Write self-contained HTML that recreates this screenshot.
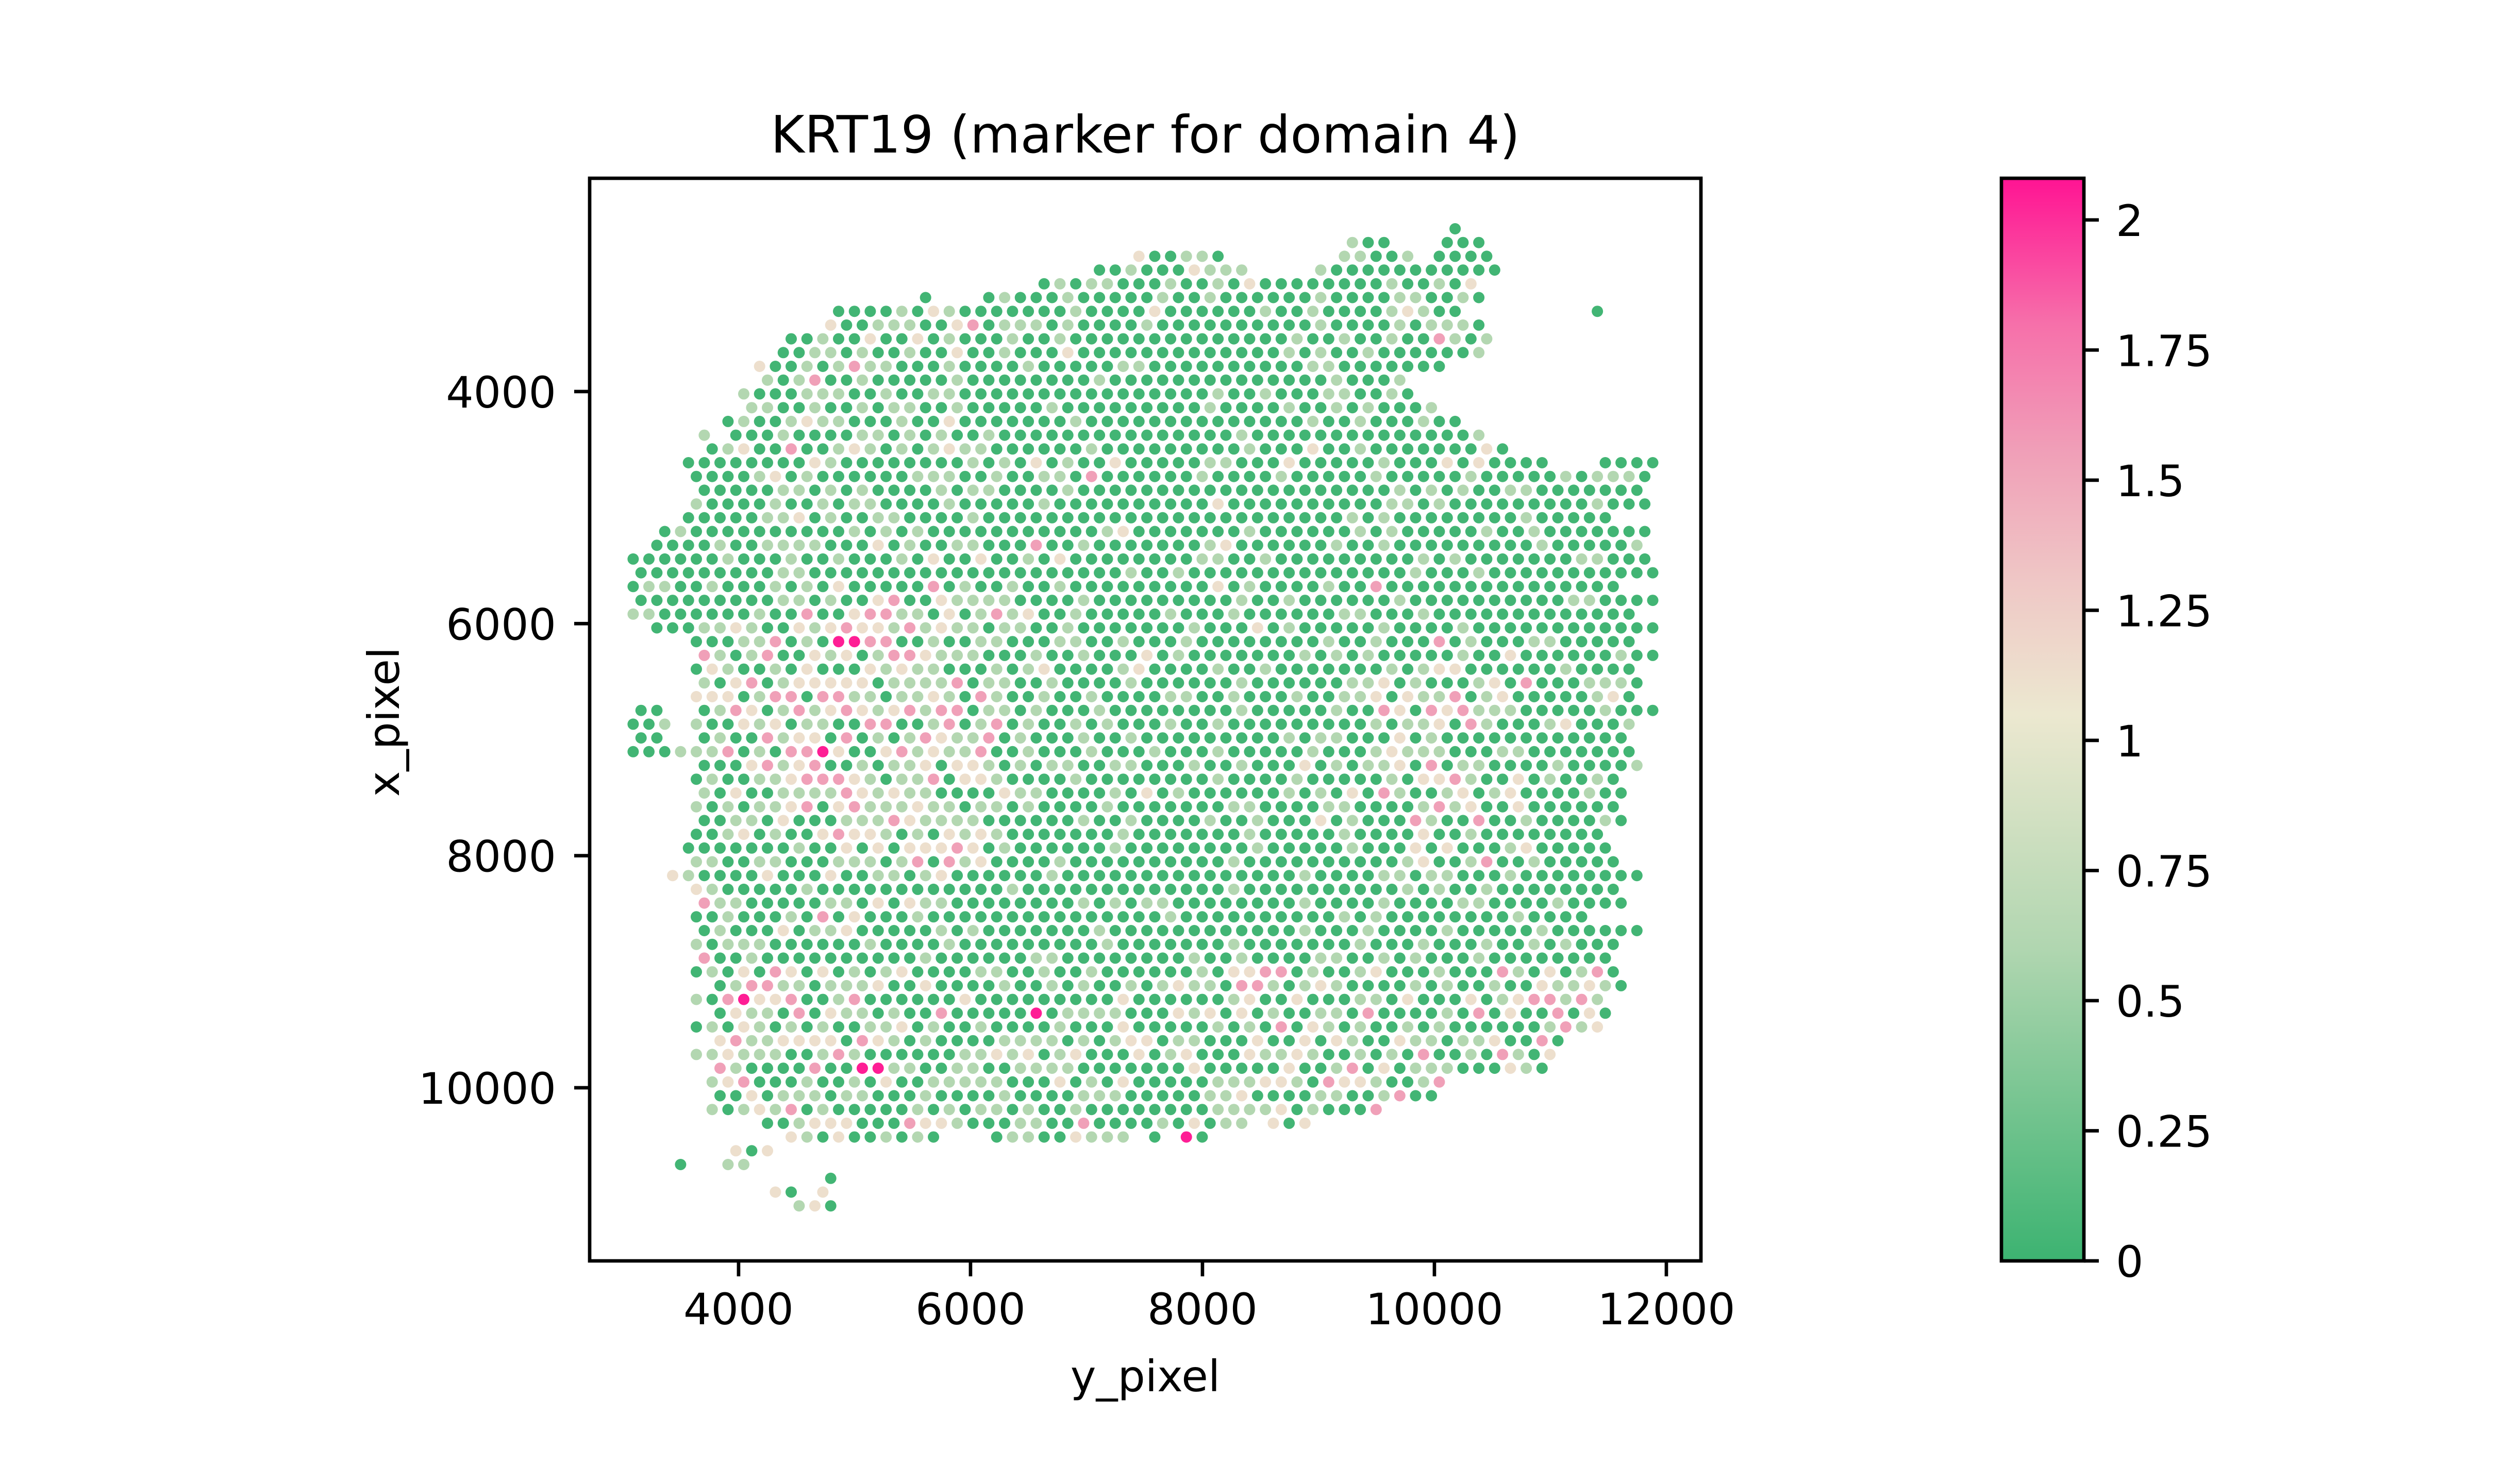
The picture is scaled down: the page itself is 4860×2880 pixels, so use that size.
<!DOCTYPE html>
<html><head><meta charset="utf-8">
<style>
html,body{margin:0;padding:0;background:#fff;}
svg{display:block;}
text{font-family:"DejaVu Sans","Liberation Sans",sans-serif;fill:#000;}
</style></head>
<body>
<svg id="fig" width="4860" height="2880" viewBox="0 0 4860 2880" xmlns="http://www.w3.org/2000/svg">
<defs>
<linearGradient id="cbgrad" x1="0" y1="1" x2="0" y2="0">
<stop offset="0" stop-color="#3cb371"/>
<stop offset="0.288" stop-color="#b0d6b0"/>
<stop offset="0.505" stop-color="#ece8d0"/>
<stop offset="0.625" stop-color="#efc8c6"/>
<stop offset="0.745" stop-color="#f0a0b8"/>
<stop offset="0.865" stop-color="#f670aa"/>
<stop offset="1" stop-color="#ff1493"/>
</linearGradient>
</defs>
<rect x="0" y="0" width="4860" height="2880" fill="#fff"/>
<text x="2222" y="296" font-size="100" text-anchor="middle">KRT19 (marker for domain 4)</text>
<g id="spots"></g>
<rect x="1144" y="346" width="2156" height="2101" fill="none" stroke="#000" stroke-width="6.7"/>
<g id="xticks"></g>
<g id="yticks"></g>
<text x="2222" y="2700" font-size="84" text-anchor="middle">y_pixel</text>
<text x="745" y="1401" font-size="84" text-anchor="middle" dominant-baseline="central" transform="rotate(-90 745 1401)">x_pixel</text>
<rect x="3883" y="346" width="160" height="2101" fill="url(#cbgrad)" stroke="#000" stroke-width="6.7"/>
<g id="cbticks"></g>
</svg>
<script>
// ---- axis data ----
const xTicks = [4000, 6000, 8000, 10000, 12000];
const yTicks = [4000, 6000, 8000, 10000];
const cbTicks = [0, 0.25, 0.5, 0.75, 1, 1.25, 1.5, 1.75, 2];
const cbTickLabels = ["0", "0.25", "0.5", "0.75", "1", "1.25", "1.5", "1.75", "2"];
// ---- spot data: grid rows (row index -> start column, last column, value codes per column) ----
const rowStart = [52,45,32,29,26,18,13,12,10,9,8,8,7,7,6,4,5,3,4,4,4,3,2,1,0,0,0,0,0,1,4,4,4,4,4,0,0,0,0,4,4,4,4,4,4,3,4,2,4,4,4,4,4,4,4,5,4,5,4,5,4,5,5,5,5,8,10,6,3,12,9,10];
const rowEnd = [52,53,54,54,54,53,61,53,54,53,51,48,50,50,52,63,64,64,64,63,64,63,64,63,64,64,63,64,63,64,63,64,63,64,63,64,63,63,63,63,62,62,62,62,61,61,62,63,62,62,62,63,62,61,62,62,61,61,62,60,59,57,52,50,47,42,36,99,99,99,99,99];
const rowCodes = [
"g",
"lgg...ggg",
"bggllg.......llggl.gggg",
"gglgggblll....lggggggggggg",
"glgllggglgglgbgggggggglgglgb",
"g...glggglggggglgglgggggglggggllgglgb",
"gggglgblggggggglggggbgggggglgglgggglblgg........g",
"bgglllggbpglllglgggglgggggggggglgggglglllgl",
"gglggbggbglggglgglgggggggggggggglgglgglggplgl",
"ggllglgglggbgglgggbggggggggggggglglgglggggggl",
"bgglglpllggglgggglgggggllggggggggggllgggggggg",
"lglpgglggggglgggggggglgggggggggggggglgggl",
"lggglllgglggllgggggggggggggggglgglgggllgglg",
"llgglgglgllgglggggglggggggggglgggglgglglgggl",
"glgglbllggglggbggggggglgggggggggggggglgglggglggb",
"l.ggglggggllglglgglggggggggggggggglggggggggggggggl..........g",
"glbggpgglblglglbllgggggglggggggggglgggbgglgggggggbg.........g",
"ggggggggblgggggggglglgbglggbgggggllgggbggggglgggbgbgggg...ggggg",
"gggglbglgggggglllgglggllgpgggggglgggglggggglggggglggggglglllglg",
"gggggllglglgggglgllgggglgggggggggggggggggggglglglggllggggggg",
"lgggglgglgllgggglggggglggggggggggbggggggggggllglggggggggglggg",
"gggggllbglggllgggglggggggggggggggggggggggglglgggggggglggggg",
"glgggggggggglglglggggggggggglbggggggglgggggglglggggglgglgggggggg",
"gggglggllllgggbglggllgggpgglggggggglbgggggglgglggggggggglggggglggg",
"gggggglggglgglggglgbggbgglgbggggggggllgglggggggggglglgggggggllggggl",
"gggggggggllgggggggggggggggggggglgglgggggggggggggglggglgggggggggggg",
"gllgglggglglgbgggggpglgglgglgggggggggbglgggglggpggggggggggggggg",
"gggggggggllglggbpggbllllgggglggggggggglgglgggggglggggggggggllgggggg",
"llgggggglggpggbppllgbglplbgglggggglggglggggggllggglggggggggggggggl",
"gggllblggblbpbblplbllgllgglggggggglgggbglggggglgggglggggggggggggg",
"gggllpglgmmppgglggllgggllgglggglgggggggglgglgggpglgggllgggggg",
"plglpggblbglppblllggglgglgggbglggggggglglglggggglggbgggggglgggg",
"gblgglgbgggblbllggglglbgggglbgggglgglggggggglglbbgggggglgggggg",
"lgbpglbbbbbgllllpgllgglgggglgggggglggggggllbglggglbgpggglllg",
"bbbglppgppllgllblgplgglgglggggllgglggglggllbgbllpglbggggglbg",
"gg..glpbglplbpblbplppgllglggglgggggggglggggglggpbgpbplllggggglgggg",
"ggl.lggblbgllggppgglpglpglgglglggglgglggggggggglgllbgplggglbggglg",
"gg..glggplbbgpglglpbllpglggglgglggggggggglgllgggbglgggggggggggg",
"ggglllpglgppmbggbplbllpgglggglggglggglggggglggglblllgggllgggggggg",
"gggbplbpgglgllbgbblglgllggllggglgglgggbglgllbgpgllgggglggggl",
"glggllbpppblgllpgbblgggglgggggggglgggglggggglgbbplggbglgglgg",
"lgbggllllpblbllggggbllgggglgbglgggggglglgbgplgglbglbgggglgg",
"lglgllbpgbplllbllgllglgggglgggggggllggggllgggglplbggbgggggg",
"ggllgbggglllpbllllgggggglgglgggglgglgggbglgggplggpgglgggglg",
"gglbglggbpbblglgblblggggggglggggggglggggglggggbgglggggggggg",
"ggggggglggbgbgbbbpbglgggggglgggggggglggggglgggbgbggglbggggg",
"llggllggglllglpgplbgggglgggggggggglgggggggggglbgglpgglgggggggg",
"blggggbgggbggllglbgggggglggggggggggggggglggggllgllggglgggggggg",
"blggggglgggggggggggglggggggggggggglgggggggggglglgglgggggggg",
"pllgggggllgbgbllgggggggglglgllgggggggglgggglggggllgggglgggg",
"gglggglgpgbggglggggggggggggggglgggggggggglglgggggggglgggg",
"glgggbgllbggggglglggggggglgggggggggggglggglgggglggggglgggggggg",
"lglllgggggglgggglggggggggglggggggglggggggglggglggglgglglgggg",
"pgglgggggggggglggggggllgggggggglgglggggllgglglggglgggggggg",
"glgbgpbgbglglbggggllgglgglgggggglgbbppglgglbggglgggplgbglpg",
"glppllglllbggbgggglgglglgglglbllgpplglblgggglglgglggbllblg",
"lgpmbbpgglpggggggbgggggggggbgggggglbggbgggllgbgggbglbpplpl",
"gbllgpgbllglggpgggggmgllllgggblbgbglggllgpgggglgpgbggpgbg",
"glgblglglggllbglgglgggglgggbggggglglgpgblglgglglgggggglplb",
"bpllbbbbgpblglggggllllglglbbgllgggbggbgblggbllgllbggpg",
"llblllgglplggggggllblbglbgggbglbgggbllblgglglgpgglgplgb",
"plggggpggmmllggllggllllgggggggbgggggbgglpgbglllgggblgp",
"lbpggglgglgbgglllllgggbglgbggggglllbblgpbblgglp",
"ggbglllgllggglgggglgggglllgggggllbggggllgglpggg",
"lglblpglggggglglgllglgglggggggggllllbglgggp",
"gglbbbgggpbblgggllggpgggglgbgll.bgb",
"blgbgglglg...gllggblll.g.mg",
"bgb",
"g..ll",
"g",
"bg.b",
"lbg"
];
const codeValue = {g:0.03, l:0.62, b:1.12, p:1.55, q:1.8, m:2.05};

// ---- scales ----
const AX = {left:1144, right:3300, top:346, bottom:2447};
const xMin = 2716, xMax = 12298, yMin = 2162, yMax = 11492;
const vMin = 0, vMax = 2.08;
function sx(v){ return AX.left + (v - xMin)/(xMax - xMin)*(AX.right - AX.left); }
function sy(v){ return AX.top + (v - yMin)/(yMax - yMin)*(AX.bottom - AX.top); }
function sc(v){ return AX.bottom - (v - vMin)/(vMax - vMin)*(AX.bottom - AX.top); }
// spot grid geometry (data units)
const gridX0 = 3125, gridDX = 136.3, gridY0 = 2597, gridDY = 118.6;
const stops = [[0,[60,179,113]],[0.6,[176,214,176]],[1.05,[236,232,208]],[1.3,[239,200,198]],[1.55,[240,160,184]],[1.8,[246,112,170]],[2.08,[255,20,147]]];
function cmap(v){
  for(let i=1;i<stops.length;i++){
    if(v<=stops[i][0]){
      const a=stops[i-1], b=stops[i];
      const t=Math.max(0,(v-a[0])/(b[0]-a[0]));
      const c=a[1].map((x,k)=>Math.round(x+(b[1][k]-x)*t));
      return "rgb("+c.join(",")+")";
    }
  }
  return "rgb(255,20,147)";
}
const NS="http://www.w3.org/2000/svg";
const spotsG=document.getElementById("spots");
for(let r=0;r<rowCodes.length;r++){
  const codes=rowCodes[r];
  for(let k=0;k<codes.length;k++){
    const ch=codes[k];
    if(!(ch in codeValue)) continue;
    const colIdx=rowStart[r]+k;
    if(colIdx>rowEnd[r]) continue;
    const col=colIdx+(r%2?0.25:-0.25);
    const dx=gridX0+col*gridDX, dy=gridY0+r*gridDY;
    const c=document.createElementNS(NS,"circle");
    c.setAttribute("cx",sx(dx).toFixed(1));
    c.setAttribute("cy",sy(dy).toFixed(1));
    c.setAttribute("r","11");
    c.setAttribute("fill",cmap(codeValue[ch]));
    
    
    spotsG.appendChild(c);
  }
}
// x ticks
const xg=document.getElementById("xticks");
xTicks.forEach(t=>{
  const x=sx(t);
  const l=document.createElementNS(NS,"line");
  l.setAttribute("x1",x);l.setAttribute("x2",x);l.setAttribute("y1",AX.bottom);l.setAttribute("y2",AX.bottom+30);
  l.setAttribute("stroke","#000");l.setAttribute("stroke-width","6.7");
  
  
  xg.appendChild(l);
  const tx=document.createElementNS(NS,"text");
  tx.setAttribute("x",x);tx.setAttribute("y",2570);tx.setAttribute("font-size","84");tx.setAttribute("text-anchor","middle");
  tx.textContent=String(t);
  
  
  xg.appendChild(tx);
});
// y ticks
const yg=document.getElementById("yticks");
yTicks.forEach(t=>{
  const y=sy(t);
  const l=document.createElementNS(NS,"line");
  l.setAttribute("x1",AX.left-30);l.setAttribute("x2",AX.left);l.setAttribute("y1",y);l.setAttribute("y2",y);
  l.setAttribute("stroke","#000");l.setAttribute("stroke-width","6.7");
  
  
  yg.appendChild(l);
  const tx=document.createElementNS(NS,"text");
  tx.setAttribute("x",1079);tx.setAttribute("y",y+31);tx.setAttribute("font-size","84");tx.setAttribute("text-anchor","end");
  tx.textContent=String(t);
  
  
  yg.appendChild(tx);
});
// colorbar ticks
const cg=document.getElementById("cbticks");
cbTicks.forEach((t,i)=>{
  const y=sc(t);
  const l=document.createElementNS(NS,"line");
  l.setAttribute("x1",4043);l.setAttribute("x2",4072);l.setAttribute("y1",y);l.setAttribute("y2",y);
  l.setAttribute("stroke","#000");l.setAttribute("stroke-width","6.7");
  
  
  cg.appendChild(l);
  const tx=document.createElementNS(NS,"text");
  tx.setAttribute("x",4105);tx.setAttribute("y",y+31);tx.setAttribute("font-size","84");
  tx.textContent=cbTickLabels[i];
  
  
  cg.appendChild(tx);
});
</script>
</body></html>
